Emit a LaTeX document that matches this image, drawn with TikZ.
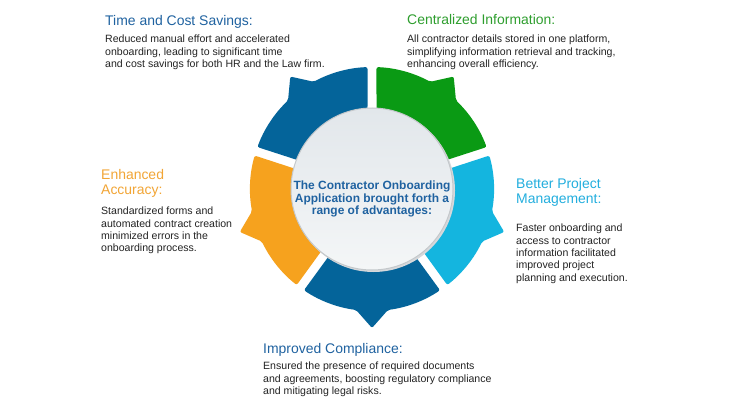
\documentclass[tikz,border=0pt]{standalone}
\usepackage{fontspec}
\setmainfont{Liberation Sans}
\usetikzlibrary{positioning}
\definecolor{PetalBlue}{HTML}{04649A}
\definecolor{PetalSky}{HTML}{14B5DF}
\definecolor{PetalGreen}{HTML}{0A9A14}
\definecolor{PetalOrange}{HTML}{F6A21E}
\definecolor{HeadBlue}{HTML}{1F62A0}
\definecolor{HeadSky}{HTML}{22AEDE}
\definecolor{HeadGreen}{HTML}{2E9E2E}
\definecolor{HeadOrange}{HTML}{F2A535}
\definecolor{BodyText}{HTML}{232323}
\definecolor{HubTop}{HTML}{E2E7EB}
\definecolor{HubLow}{HTML}{F4F6F7}
\definecolor{HubEdge}{HTML}{C4C8CB}
\tikzset{
  heading/.style={anchor=north west,inner sep=0pt,align=left,font=\fontsize{14}{15}\selectfont},
  body/.style={anchor=north west,inner sep=0pt,align=left,text=BodyText,font=\fontsize{10.6}{12.4}\selectfont},
  hub/.style={circle,minimum size=162bp,inner sep=0pt,draw=HubEdge,line width=1bp,top color=HubTop,bottom color=HubLow},
  hubtext/.style={align=center,text=HeadBlue,font=\fontsize{12}{12.6}\selectfont\bfseries}
}

\begin{document}
\begin{tikzpicture}[x=1bp,y=1bp]
  \useasboundingbox (0,0) rectangle (730,411);
  \fill[white] (0,0) rectangle (730,411);
  % petals round the hub
  \begin{scope}[shift={(372,222)}]
    \foreach \m/\col in {-90/PetalBlue,-18/PetalSky,54/PetalGreen,126/PetalBlue,198/PetalOrange}{
      \fill[\col,rounded corners=2bp] ({\m-32.3}:70) -- ({\m-33.9}:122)
        arc[start angle=\m-33.9,end angle=\m-7.5,radius=122]
        -- (\m:139) -- ({\m+7.5}:122)
        arc[start angle=\m+7.5,end angle=\m+33.9,radius=122]
        -- ({\m+32.3}:70)
        arc[start angle=\m+32.3,end angle=\m-32.3,radius=70] -- cycle;
    }
  \end{scope}
  \fill[HubEdge!70] (373.5,220.5) circle[radius=81.5];
  \node[hub] (hub) at (372,222) {};
  \node[hubtext] (hubtext) at (372,212) {The Contractor Onboarding\\Application brought forth a\\range of advantages:};

  % time and cost
  \node[heading,text=HeadBlue] (timehead) at (105,396) {Time and Cost Savings:};
  \node[body] (timebody) at (105,376) {Reduced manual effort and accelerated\\onboarding, leading to significant time\\and cost savings for both HR and the Law firm.};
  % centralized
  \node[heading,text=HeadGreen] (infohead) at (407,397) {Centralized Information:};
  \node[body] (infobody) at (407,376) {All contractor details stored in one platform,\\simplifying information retrieval and tracking,\\enhancing overall efficiency.};
  % accuracy
  \node[heading,text=HeadOrange] (accuhead) at (101,242) {Enhanced\\Accuracy:};
  \node[body] (accubody) at (101,204) {Standardized forms and\\automated contract creation\\minimized errors in the\\onboarding process.};
  % project management
  \node[heading,text=HeadSky] (projhead) at (516,233) {Better Project\\Management:};
  \node[body] (projbody) at (516,187) {Faster onboarding and\\access to contractor\\information facilitated\\improved project\\planning and execution.};
  % compliance
  \node[heading,text=HeadBlue] (complhead) at (263,68) {Improved Compliance:};
  \node[body] (complbody) at (263,49) {Ensured the presence of required documents\\and agreements, boosting regulatory compliance\\and mitigating legal risks.};
\end{tikzpicture}
\end{document}
